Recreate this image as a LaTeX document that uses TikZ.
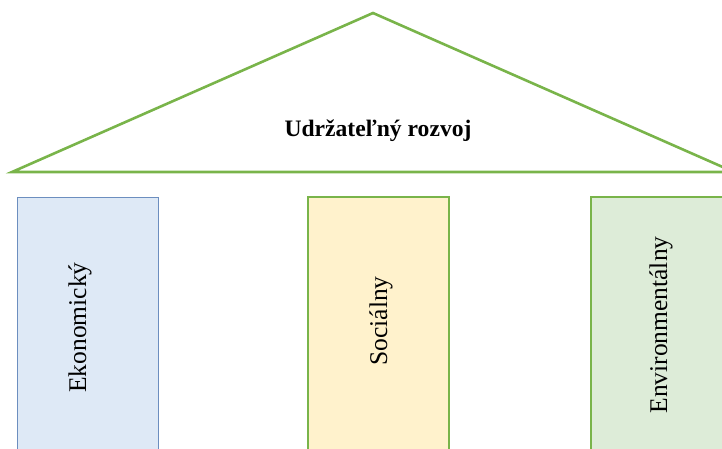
\documentclass[tikz,border=0pt]{standalone}
\usepackage{fontspec}
\setmainfont{Liberation Serif}
\definecolor{roofgreen}{HTML}{79B44A}
\definecolor{bluefill}{HTML}{DEE9F6}
\definecolor{bluestroke}{HTML}{6C8EBF}
\definecolor{yellowfill}{HTML}{FFF2CC}
\definecolor{greenfill}{HTML}{DDECD8}
\tikzset{
  pillar/.style={rectangle, minimum width=141pt, minimum height=258pt, inner sep=0pt},
  pillartext/.style={rotate=90, anchor=base, inner sep=0pt, font=\fontsize{25.5}{30}\selectfont},
}
\begin{document}
\begin{tikzpicture}[x=1pt,y=-1pt]
\useasboundingbox (0,0) rectangle (722,448);
\clip (0,0) rectangle (722,448);
% roof
\coordinate (apex) at (373,13);
\coordinate (bl) at (12,172);
\coordinate (br) at (734,172);
\draw[roofgreen, line width=2.6pt, line join=miter] (bl) -- (apex) -- (br) -- cycle;
\node (roof) at (378,131) {\fontsize{23.6}{27}\selectfont\bfseries Udržateľný rozvoj};
% pillars
\node[pillar, fill=bluefill, draw=bluestroke, line width=1pt] (eko) at (88.1,326.2) {};
\node[pillar, fill=yellowfill, draw=roofgreen, line width=2pt] (soc) at (378.7,326) {};
\node[pillar, fill=greenfill, draw=roofgreen, line width=2pt] (env) at (661.2,325.8) {};
\node[pillartext] (ekot) at (86,327.5) {Ekonomický};
\node[pillartext] (soct) at (387,321) {Sociálny};
\node[pillartext] (envt) at (667,325) {Environmentálny};
\end{tikzpicture}
\end{document}
